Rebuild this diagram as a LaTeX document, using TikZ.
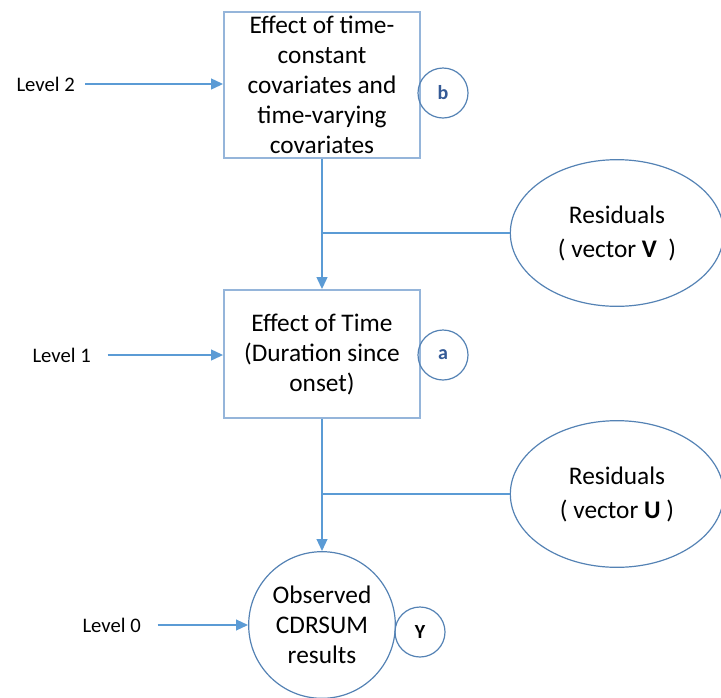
\documentclass[tikz,border=0pt]{standalone}
\usepackage{fontspec}
\setmainfont{Carlito}
\usepackage{xcolor}
\usetikzlibrary{shapes.geometric}
\usetikzlibrary{arrows.meta}
\usetikzlibrary{calc}
\definecolor{myBlue}{RGB}{91,155,213}
\definecolor{myFrame}{RGB}{149,181,218}
\definecolor{myEdge}{RGB}{84,130,180}
\definecolor{myLetter}{RGB}{52,90,150}

\tikzset{
  effbox/.style={draw=myFrame, line width=1.3pt, minimum width=147pt,
    align=center, inner sep=0pt, font=\fontsize{19}{22.5}\selectfont},
  resnode/.style={ellipse, draw=myEdge, line width=0.9pt, minimum width=160pt,
    minimum height=110pt, align=center, inner sep=0pt,
    font=\fontsize{19}{25.5}\selectfont},
  obsnode/.style={circle, draw=myEdge, line width=0.9pt, minimum size=110pt,
    align=center, inner sep=0pt, font=\fontsize{19}{22.5}\selectfont},
  coefnode/.style={circle, draw=myEdge, line width=0.9pt, minimum size=37.5pt,
    inner sep=0pt, font=\fontsize{15}{15}\selectfont\bfseries},
  lvl/.style={inner sep=0pt, font=\fontsize{15.5}{18}\selectfont},
  flow/.style={draw=myBlue, line width=1.5pt,
    -{Triangle[length=9pt,width=8pt]}},
  link/.style={draw=myBlue, line width=1.5pt},
}

\begin{document}
\begin{tikzpicture}[x=0.75pt,y=-0.75pt]
\useasboundingbox (0,0) rectangle (721,697);

%%%%%%%%%%%%%%%%%%%%%%%%%%%%%%%%%%%%%%%%%%%%%%%%%%%%%%%%%%%%%% Boxes
\node[effbox, minimum height=109.5pt] (eff2) at (322,85)
  {Effect of time-\\constant\\covariates and\\time-varying\\covariates};
\node[effbox, minimum height=96pt] (eff1) at (322,354)
  {Effect of Time\\(Duration since\\onset)};
\node[obsnode] (obs) at (322,625) {Observed\\CDRSUM\\results};

% residuals
\node[resnode] (resV) at (617,233) {Residuals\\( vector \textbf{V}\ \ )};
\node[resnode] (resU) at (617,494) {Residuals\\( vector \textbf{U} )};

% coefficients
\node[coefnode] (coefb) at (443,93) {\textcolor{myLetter}{b}};
\node[coefnode] (coefa) at (443,355) {\textcolor{myLetter}{a}};
\node[coefnode] (coefY) at (420,632) {Y};

%%%%%%%%%%%%%%%%%%%%%%%%%%%%%%%%%%%%%%%%%%%%%%%%%%%%%%%%%%%%%% Levels
\node[lvl, anchor=east] (lvl2) at (75,84) {Level 2};
\node[lvl, anchor=east] (lvl1) at (91,355) {Level 1};
\node[lvl, anchor=east] (lvl0) at (141,625) {Level 0};

\draw[flow, shorten <=7.5pt] (lvl2.east) -- (lvl2.east -| eff2.west);
\draw[flow, shorten <=12.5pt] (lvl1.east) -- (lvl1.east -| eff1.west);
\draw[flow, shorten <=12.5pt] (lvl0.east) -- (obs.west);

%%%%%%%%%%%%%%%%%%%%%%%%%%%%%%%%%%%%%%%%%%%%%%%%%%%%%%%%%%%%%% Flow down
\draw[flow] (eff2) -- (eff1);
\draw[flow] (eff1) -- (obs);
\draw[link] (resV) -- (resV -| eff2);
\draw[link] (resU) -- (resU -| eff1);

\end{tikzpicture}
\end{document}
